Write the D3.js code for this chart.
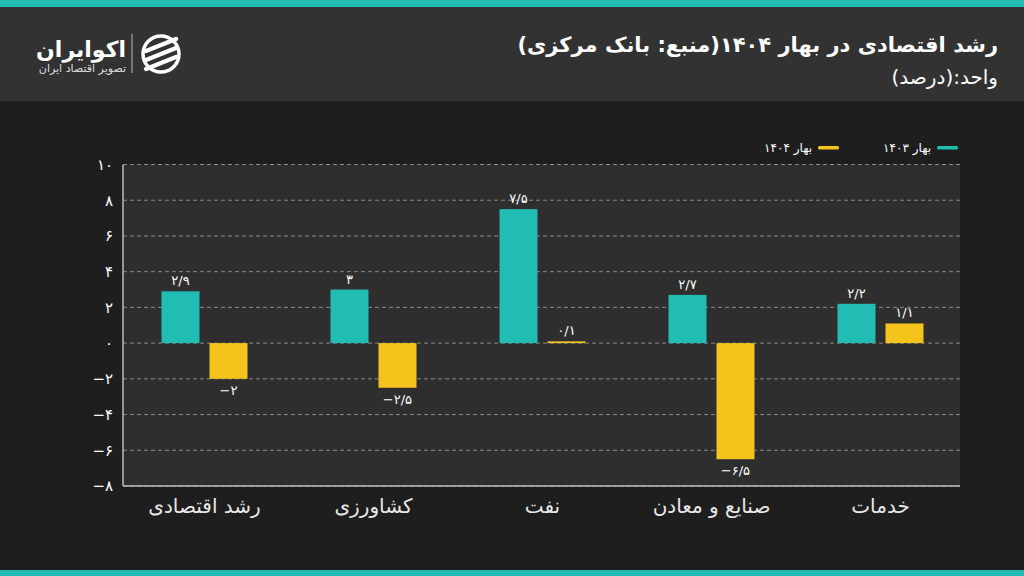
<!DOCTYPE html>
<html><head><meta charset="utf-8">
<script src="https://cdn.jsdelivr.net/npm/d3@7"></script>
<style>
html,body{margin:0;padding:0;background:#1f1e1f;}
svg{display:block;font-family:"DejaVu Sans",sans-serif;}
</style></head>
<body>
<svg id="c" width="1024" height="576"></svg>
<script>
const categories = ["رشد اقتصادی","کشاورزی","نفت","صنایع و معادن","خدمات"];
const seriesNames = ["بهار ۱۴۰۳","بهار ۱۴۰۴"];
const values1403 = [2.9, 3, 7.5, 2.7, 2.2];
const values1404 = [-2, -2.5, 0.1, -6.5, 1.1];
const yTicks = [10, 8, 6, 4, 2, 0, -2, -4, -6, -8];
const colors = ["#21bcb4", "#f4c41c"];

const fa = n => {
  const s = String(Math.abs(n)).replace(".", "/").replace(/[0-9]/g, d => "۰۱۲۳۴۵۶۷۸۹"[+d]);
  return (n < 0 ? "\u2212" : "") + s;
};

const svg = d3.select("#c");
svg.append("rect").attr("width",1024).attr("height",576).attr("fill","#1f1e1f");
svg.append("rect").attr("x",0).attr("y",0).attr("width",1024).attr("height",101).attr("fill","#333233");
svg.append("rect").attr("x",0).attr("y",0).attr("width",1024).attr("height",7).attr("fill","#21bcb4");
svg.append("rect").attr("x",0).attr("y",570).attr("width",1024).attr("height",6).attr("fill","#21bcb4");

// title
svg.append("text").attr("x",998).attr("y",52).attr("direction","rtl")
  .attr("fill","#ffffff").attr("font-size",21).attr("font-weight","bold")
  .text("رشد اقتصادی در بهار ۱۴۰۴(منبع: بانک مرکزی)");
svg.append("text").attr("x",998).attr("y",84).attr("direction","rtl")
  .attr("fill","#ffffff").attr("font-size",20)
  .text("واحد:(درصد)");

// logo
const logo = svg.append("g");
logo.append("text").attr("x",126).attr("y",57).attr("direction","rtl").attr("fill","#fff")
  .attr("font-size",22).attr("font-weight","bold").text("اکوایران");
logo.append("text").attr("x",126).attr("y",72).attr("direction","rtl").attr("fill","#ddd")
  .attr("font-size",11).text("تصویر اقتصاد ایران");
logo.append("line").attr("x1",132).attr("x2",132).attr("y1",34).attr("y2",73).attr("stroke","#bbb").attr("stroke-width",1);
const lg = logo.append("g").attr("transform","translate(161,54)");
lg.append("circle").attr("r",18).attr("fill","none").attr("stroke","#fff").attr("stroke-width",3.5);
[-9, 0, 9].forEach(o => {
  lg.append("line").attr("x1",-15).attr("y1",o+6).attr("x2",15).attr("y2",o-6)
    .attr("stroke","#fff").attr("stroke-width",4.5).attr("stroke-linecap","round");
});

// plot
const px0 = 123, px1 = 960;
const y = d3.scaleLinear().domain([-8, 10]).range([486, 164.5]);
const x0 = d3.scaleBand().domain(categories).range([120, 965]).paddingInner(0).paddingOuter(0);
const x1 = d3.scaleBand().domain(seriesNames).range([-43, 43]).paddingInner(0.2083).paddingOuter(0);

svg.append("rect").attr("x",px0).attr("y",y(10)).attr("width",px1-px0).attr("height",y(-8)-y(10)).attr("fill","#2f2e2f");

svg.append("g").selectAll("line").data(yTicks).join("line")
  .attr("x1",px0).attr("x2",px1).attr("y1",d=>y(d)).attr("y2",d=>y(d))
  .attr("stroke","#8a8a8a").attr("stroke-width",1).attr("stroke-dasharray","4,3");

const yAxis = d3.axisLeft(y).tickValues(yTicks).tickSize(0).tickPadding(10).tickFormat(fa);
const ga = svg.append("g").attr("transform",`translate(${px0},0)`).call(yAxis);
ga.select(".domain").remove();
ga.selectAll("text").attr("fill","#ffffff").attr("font-size",15).attr("font-family","DejaVu Sans").attr("direction","ltr");

svg.append("line").attr("x1",px0).attr("x2",px0).attr("y1",y(10)).attr("y2",y(-8)).attr("stroke","#bdbdbd").attr("stroke-width",1.5);
svg.append("line").attr("x1",px0).attr("x2",px1).attr("y1",y(-8)).attr("y2",y(-8)).attr("stroke","#bdbdbd").attr("stroke-width",1.5);

const xAxis = d3.axisBottom(x0).tickSize(0).tickPadding(13);
const gx = svg.append("g").attr("transform",`translate(0,${y(-8)})`).call(xAxis);
gx.select(".domain").remove();
gx.selectAll("text").attr("fill","#e8e8e8").attr("font-size",20).attr("font-family","DejaVu Sans").attr("direction","rtl").attr("text-anchor","middle");

const data = [];
categories.forEach((c,i) => {
  data.push({cat:c, s:seriesNames[0], v:values1403[i], col:colors[0]});
  data.push({cat:c, s:seriesNames[1], v:values1404[i], col:colors[1]});
});
const cx = d => x0(d.cat) + x0.bandwidth()/2 + x1(d.s);
svg.append("g").selectAll("rect").data(data).join("rect")
  .attr("x", cx)
  .attr("width", x1.bandwidth())
  .attr("y", d => y(Math.max(0,d.v)))
  .attr("height", d => Math.max(1.5, Math.abs(y(d.v)-y(0))))
  .attr("fill", d => d.col);

svg.append("g").selectAll("text").data(data).join("text")
  .attr("x", d => cx(d) + x1.bandwidth()/2)
  .attr("y", d => d.v >= 0 ? y(d.v) - 6 : y(d.v) + 16)
  .attr("text-anchor","middle").attr("direction","ltr")
  .attr("fill","#ffffff").attr("font-size",13)
  .text(d => fa(d.v));

const leg = [{n:seriesNames[0], c:colors[0], x:937},{n:seriesNames[1], c:colors[1], x:818}];
const gl = svg.append("g").selectAll("g").data(leg).join("g");
gl.append("rect").attr("x",d=>d.x).attr("y",146).attr("width",21).attr("height",3.5).attr("rx",1.5).attr("fill",d=>d.c);
gl.append("text").attr("x",d=>d.x-6).attr("y",152).attr("direction","rtl").attr("fill","#ffffff").attr("font-size",12).text(d=>d.n);
</script>
</body></html>
